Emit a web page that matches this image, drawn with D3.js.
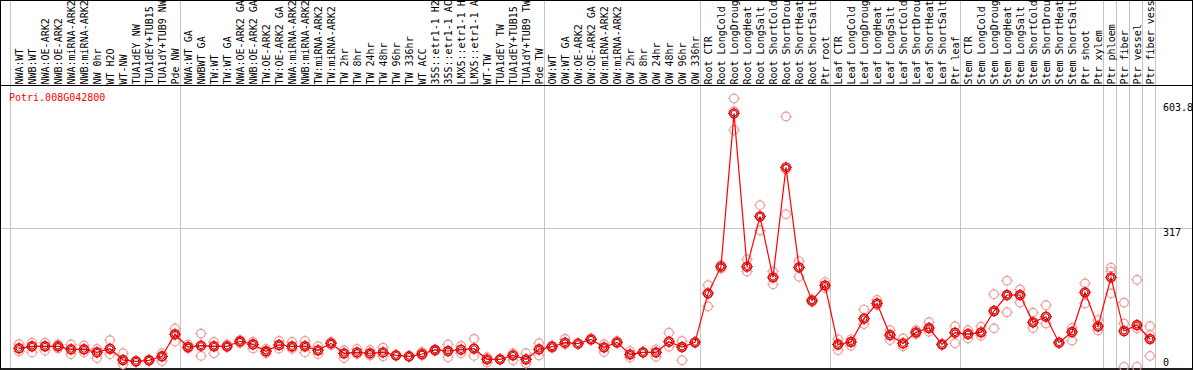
<!DOCTYPE html>
<html><head><meta charset="utf-8">
<script src="https://cdn.jsdelivr.net/npm/d3@7"></script>
<style>html,body{margin:0;padding:0;background:#fff;overflow:hidden}svg{display:block}</style>
</head><body><div id="chart"></div>
<script>
const geneId = "Potri.008G042800";
const categories = [
"NWA:WT","NWB:WT","NWA:OE-ARK2","NWB:OE-ARK2","NWA:miRNA-ARK2","NWB:miRNA-ARK2","NW 0hr","WT H2O","WT-NW","TUA1dEY NW","TUA1dEY+TUB15 NW","TUA1dY+TUB9 NW","Pde NW",
"NWA:WT GA","NWBWT GA","TW:WT","TW:WT GA","NWA:OE-ARK2 GA","NWB:OE-ARK2 GA","TW:OE-ARK2","TW:OE-ARK2 GA","NWA:miRNA-ARK2","NWB:miRNA-ARK2","TW:miRNA-ARK2","TW:miRNA-ARK2","TW 2hr","TW 8hr","TW 24hr","TW 48hr","TW 96hr","TW 336hr","WT ACC","35S::etr1-1 H2O","35S::etr1-1 ACC","LMX5::etr1-1 H2O","LMX5::etr1-1 ACC","WT-TW","TUA1dEY TW","TUA1dEY+TUB15 TW","TUA1dY+TUB9 TW","Pde TW",
"OW:WT","OW:WT GA","OW:OE-ARK2","OW:OE-ARK2 GA","OW:miRNA-ARK2","OW:miRNA-ARK2","OW 2hr","OW 8hr","OW 24hr","OW 48hr","OW 96hr","OW 336hr",
"Root CTR","Root LongCold","Root LongDrought","Root LongHeat","Root LongSalt","Root ShortCold","Root ShortDrought","Root ShortHeat","Root ShortSalt","Ptr root",
"Leaf CTR","Leaf LongCold","Leaf LongDrought","Leaf LongHeat","Leaf LongSalt","Leaf ShortCold","Leaf ShortDrought","Leaf ShortHeat","Leaf ShortSalt","Ptr leaf",
"Stem CTR","Stem LongCold","Stem LongDrought","Stem LongHeat","Stem LongSalt","Stem ShortCold","Stem ShortDrought","Stem ShortHeat","Stem ShortSalt","Ptr shoot","Ptr xylem",
"Ptr phloem","Ptr fiber","Ptr vessel","Ptr fiber vessel"];
const groupSizes = [13,28,12,10,10,11,1,1,1,1];
const meanValues = [
42.3,46.9,46.9,46.9,40.0,40.0,33.2,41.4,15.6,12.6,14.9,24.0,74.4,
45.3,48.3,46.9,46.9,58.4,51.5,35.5,49.9,46.5,47.0,37.7,53.7,30.8,33.0,31.0,33.0,26.2,24.0,29.3,38.5,36.2,39.2,41.5,17.1,17.1,26.2,17.1,40.0,
46.0,55.2,53.0,62.8,44.5,56.0,28.5,33.1,33.1,57.5,45.3,56.0,
168.1,229.2,580.1,229.2,344.4,204.7,456.5,227.6,151.3,186.4,
51.0,56.7,110.1,145.2,72.7,53.6,78.8,88.7,51.4,78.1,
75.0,78.8,127.7,164.3,164.3,101.7,114.7,55.2,79.6,170.4,92.6,
204.7,81.9,95.6,63.6];
const repA = [
52,55,55,51,51,49,41,61,31,13,16,31,88,
51,76,57,51,61,57,41,59,57,59,47,57,38,41,38,44,27,25,34,40,51,48,64,22,18,31,31,54,
49,64,54,65,52,59,36,34,40,78,59,57,
187,233,614,246,370,218,573,242,154,194,
63,63,131,153,84,65,84,102,52,93,
84,92,166,197,177,124,141,56,89,191,107,
227,147,199,93];
const repB = [
42,47,47,47,40,40,33,41,16,12,15,24,74,
45,48,47,47,58,51,35,50,47,47,38,54,31,33,31,33,26,24,29,38,36,39,42,17,17,26,17,40,
46,55,53,62,44,56,28,33,33,57,45,56,
168,229,585,229,344,205,452,228,151,186,
51,57,110,145,73,54,79,89,51,78,
75,79,128,164,164,102,115,55,80,170,92,
218,99,88,73];
const repC = [
35,33,37,42,29,33,20,29,6,12,14,13,58,
42,25,31,45,54,42,31,42,41,33,29,50,20,29,26,24,26,23,26,36,22,31,25,10,17,15,8,26,
43,51,52,61,34,54,21,33,23,46,15,55,
138,225,542,218,312,189,349,206,148,180,
38,48,98,141,61,47,75,80,50,54,
65,71,88,125,147,89,99,54,60,145,83,
168,0,0,25];
const yTickValues = [0, 317, 603.8];
const yTickLabels = ["0", "317", "603.8"];
const labelMaxChars = 14;

const W = 1194, H = 370;
const FONT = "'DejaVu Sans Mono', 'Liberation Mono', monospace";
const svg = d3.select("#chart").append("svg").attr("width", W).attr("height", H)
  .style("background", "#fff");

const x = d3.scaleBand().domain(d3.range(categories.length))
  .range([12.5, 12.5 + 13 * categories.length]);
const cx = i => x(i) + x.bandwidth() / 2;
const y = d3.scaleLinear().domain([0, 603.8]).range([366.8, 103]);

// horizontal gridline (middle tick)
svg.append("g").selectAll("line").data(yTickValues.filter(v => v > 0 && v < 603.8)).join("line")
  .attr("x1", 0).attr("x2", 1192)
  .attr("y1", d => Math.round(y(d)) + 0.5).attr("y2", d => Math.round(y(d)) + 0.5)
  .attr("stroke", "#c4c4c4").attr("stroke-width", 1);

// group separators
const ends = [];
let acc = 0;
groupSizes.forEach(s => { acc += s; ends.push(acc - 1); });
const sepX = [Math.floor(x(0)) - 2 + 0.5].concat(ends.map(e => Math.floor(x(e) + x.step()) - 1 + 0.5));
svg.append("g").selectAll("line").data(sepX).join("line")
  .attr("x1", d => d).attr("x2", d => d).attr("y1", 0).attr("y2", 369)
  .attr("stroke", "#c4c4c4").attr("stroke-width", 1);

// frame
svg.append("rect").attr("x", 0.5).attr("y", 0.5).attr("width", 1192).attr("height", 368.5)
  .attr("fill", "none").attr("stroke", "#000").attr("stroke-width", 1);
svg.append("line").attr("x1", 0).attr("x2", 1193).attr("y1", 369).attr("y2", 369)
  .attr("stroke", "#000").attr("stroke-width", 1.5);
svg.append("line").attr("x1", 0).attr("x2", 1193).attr("y1", 85.5).attr("y2", 85.5)
  .attr("stroke", "#000").attr("stroke-width", 1);

// column labels (header shows at most 14 characters)
svg.append("g")
  .selectAll("text").data(categories).join("text")
  .attr("transform", (d, i) => `translate(${cx(i) + 3.5},84.5) rotate(-90)`)
  .attr("font-family", FONT).attr("font-size", 10).attr("fill", "#000")
  .attr("text-anchor", "start").text(d => d.slice(0, labelMaxChars));

// title
svg.append("text").attr("x", 9).attr("y", 100.5)
  .attr("font-family", FONT).attr("font-size", 10).attr("fill", "#ff0000").text(geneId);

// y labels
svg.append("g").selectAll("text").data(yTickValues).join("text")
  .attr("x", 1163).attr("y", d => Math.min(y(d) + 8, 366))
  .attr("font-family", FONT).attr("font-size", 10).attr("fill", "#000")
  .text((d, i) => yTickLabels[i]);

function marker(g, px, py, color, r, w) {
  g.append("circle").attr("cx", px).attr("cy", py).attr("r", r)
    .attr("fill", "none").attr("stroke", color).attr("stroke-width", w);
  const a = r - 0.3, b = r + 1.6;
  g.append("path")
    .attr("d", `M${px},${py - a}V${py - b}M${px},${py + a}V${py + b}M${px - a},${py}H${px - b}M${px + a},${py}H${px + b}`)
    .attr("stroke", color).attr("stroke-width", 1).attr("fill", "none");
}

// replicates
const repG = svg.append("g");
[repA, repB, repC].forEach(arr => {
  arr.forEach((v, i) => marker(repG, cx(i), y(v), "#ef9a9a", 4.3, 1.2));
});

// mean line
svg.append("path").datum(meanValues)
  .attr("d", d3.line().x((d, i) => cx(i)).y(d => y(d)))
  .attr("fill", "none").attr("stroke", "#ff0000").attr("stroke-width", 1.2);

// means
const meanG = svg.append("g");
meanValues.forEach((v, i) => {
  marker(meanG, cx(i), y(v), "#ff0000", 4.4, 1.6);
  meanG.append("circle").attr("cx", cx(i)).attr("cy", y(v)).attr("r", 2.9)
    .attr("fill", "none").attr("stroke", "#7a0000").attr("stroke-width", 0.9);
});
</script></body></html>
